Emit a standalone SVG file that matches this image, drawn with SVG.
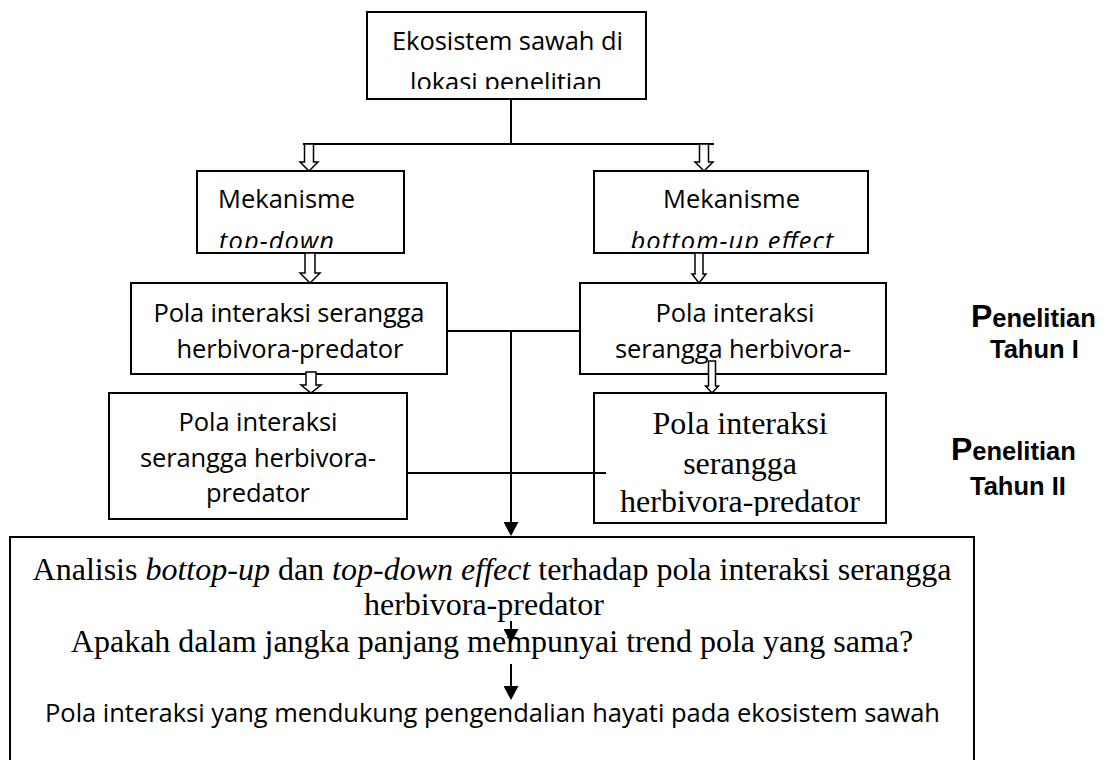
<svg xmlns="http://www.w3.org/2000/svg" width="1107" height="760" viewBox="0 0 1107 760">
<style>
.box{fill:#fff;stroke:#000;stroke-width:2}
.cal{font-family:"Open Sans",Lato,"Liberation Sans",sans-serif;font-size:25.5px;fill:#000}
.tnr{font-family:"Liberation Serif","Times New Roman",serif;font-size:32px;fill:#000}
.lbl{font-family:"Liberation Sans",Arial,sans-serif;font-weight:bold;font-size:25.5px;fill:#000}
.big{font-size:32px}
.conn{stroke:#000;stroke-width:2;fill:none}
.harrow{fill:#fff;stroke:#000;stroke-width:1.5;stroke-linejoin:miter}
</style>
<defs>
<marker id="ah" markerUnits="userSpaceOnUse" markerWidth="14" markerHeight="15" viewBox="0 0 14 15" refX="0" refY="7.5" orient="auto">
<path d="M0,0 L14,7.5 L0,15 Z" fill="#000"/>
</marker>
<clipPath id="cTop"><rect x="368" y="13" width="277" height="76"/></clipPath>
<clipPath id="cMekL"><rect x="198" y="172" width="205" height="76"/></clipPath>
<clipPath id="cMekR"><rect x="595" y="172" width="272" height="76"/></clipPath>
<clipPath id="cP1L"><rect x="132" y="284" width="314" height="80"/></clipPath>
<clipPath id="cP1R"><rect x="581" y="284" width="304" height="80"/></clipPath>
<clipPath id="cP2R"><rect x="595" y="394" width="290" height="122"/></clipPath>
</defs>
<rect width="1107" height="760" fill="#fff"/>

<g id="node-ekosistem">
<rect class="box" x="367" y="12" width="279" height="87"/>
<g clip-path="url(#cTop)">
<text class="cal" x="507.5" y="50" text-anchor="middle" textLength="231">Ekosistem sawah di</text>
<text class="cal" x="506" y="91" text-anchor="middle" textLength="192">lokasi penelitian</text>
</g>
</g>

<g id="node-topdown">
<rect class="box" x="197" y="171" width="207" height="82"/>
<g clip-path="url(#cMekL)">
<text class="cal" x="218" y="208" textLength="137">Mekanisme</text>
<text class="cal" x="219" y="250" font-style="italic" textLength="115">top-down</text>
</g>
</g>

<g id="node-bottomup">
<rect class="box" x="594" y="171" width="274" height="82"/>
<g clip-path="url(#cMekR)">
<text class="cal" x="731.5" y="208" text-anchor="middle" textLength="137">Mekanisme</text>
<text class="cal" x="732" y="250" text-anchor="middle" font-style="italic" textLength="203">bottom-up effect</text>
</g>
</g>

<g id="node-pola1-left">
<rect class="box" x="131" y="283" width="316" height="91"/>
<g clip-path="url(#cP1L)">
<text class="cal" x="289" y="322" text-anchor="middle" textLength="271">Pola interaksi serangga</text>
<text class="cal" x="290" y="358" text-anchor="middle" textLength="227">herbivora-predator</text>
</g>
</g>

<g id="node-pola1-right">
<rect class="box" x="580" y="283" width="306" height="91"/>
<g clip-path="url(#cP1R)">
<text class="cal" x="735" y="322" text-anchor="middle" textLength="159">Pola interaksi</text>
<text class="cal" x="733" y="358" text-anchor="middle" textLength="236">serangga herbivora-</text>
</g>
</g>

<g id="node-pola2-left">
<rect class="box" x="109" y="393" width="298" height="126"/>
<text class="cal" x="258" y="431" text-anchor="middle" textLength="159">Pola interaksi</text>
<text class="cal" x="258" y="467" text-anchor="middle" textLength="236">serangga herbivora-</text>
<text class="cal" x="258" y="502" text-anchor="middle" textLength="104">predator</text>
</g>

<g id="node-pola2-right">
<rect class="box" x="594" y="393" width="292" height="130"/>
<g clip-path="url(#cP2R)">
<text class="tnr" x="740" y="434" text-anchor="middle">Pola interaksi</text>
<text class="tnr" x="740" y="474" text-anchor="middle">serangga</text>
<text class="tnr" x="740" y="512" text-anchor="middle">herbivora-predator</text>
</g>
</g>

<g id="node-analisis">
<rect class="box" x="10" y="537" width="964" height="240"/>
<text class="tnr" x="492" y="580" text-anchor="middle">Analisis <tspan font-style="italic">bottop-up</tspan> dan <tspan font-style="italic">top-down effect</tspan> terhadap pola interaksi serangga</text>
<text class="tnr" x="364" y="615">herbivora-predator</text>
<text class="tnr" x="492" y="652" text-anchor="middle">Apakah dalam jangka panjang mempunyai trend pola yang sama?</text>
<text class="cal" x="492.5" y="722" text-anchor="middle" textLength="895">Pola interaksi yang mendukung pengendalian hayati pada ekosistem sawah</text>
</g>

<g id="label-tahun1">
<text class="lbl" x="971" y="327"><tspan class="big">P</tspan>enelitian</text>
<text class="lbl" x="990" y="358">Tahun I</text>
</g>

<g id="label-tahun2">
<text class="lbl" x="951" y="460"><tspan class="big">P</tspan>enelitian</text>
<text class="lbl" x="970" y="495">Tahun II</text>
</g>

<g id="connectors">
<path class="conn" d="M511,99 V144"/>
<path class="conn" d="M303,144 H714"/>
<path class="conn" d="M447,331 H580"/>
<path class="conn" d="M407,473 H606"/>
<path class="conn" d="M511,331 V522" marker-end="url(#ah)"/>
<path class="conn" d="M511,621 V629" marker-end="url(#ah)"/>
<path class="conn" d="M511,664 V686" marker-end="url(#ah)"/>
<path class="harrow" d="M304.5,144 V162 H300 L309,171 L318,162 H313.5 V144 Z"/>
<path class="harrow" d="M699.5,144 V162 H695 L704,171 L713,162 H708.5 V144 Z"/>
<path class="harrow" d="M305,253 V273 H300 L310,283 L320,273 H315 V253 Z"/>
<path class="harrow" d="M695,253 V274 H692 L699,283 L706,274 H703 V253 Z"/>
<path class="harrow" d="M306,372 V385 H301 L311,393 L321,385 H316 V372 Z"/>
<path class="harrow" d="M708.5,361 V386 H705.5 L712,393 L718.5,386 H715.5 V361 Z"/>
</g>
</svg>
